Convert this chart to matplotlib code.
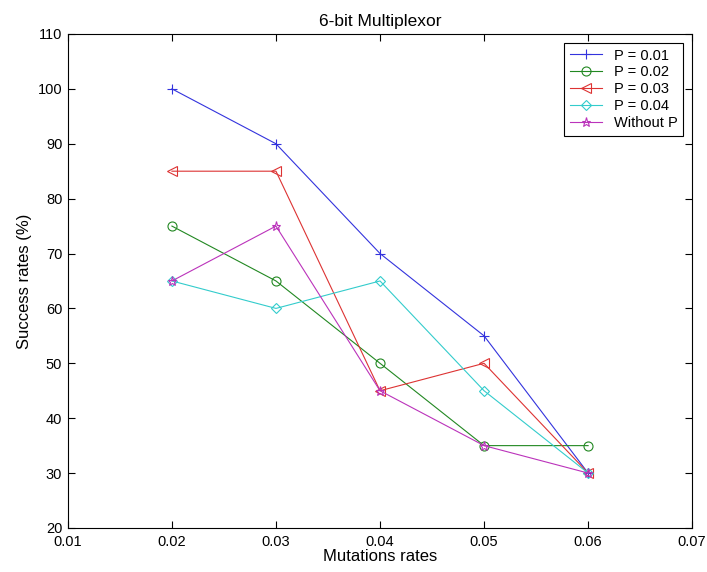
import matplotlib.pyplot as plt

plt.rcParams['font.family'] = ['Liberation Sans', 'DejaVu Sans']

rates = [0.02, 0.03, 0.04, 0.05, 0.06]
p001 = [100, 90, 70, 55, 30]
p002 = [75, 65, 50, 35, 35]
p003 = [85, 85, 45, 50, 30]
p004 = [65, 60, 65, 45, 30]
without_p = [65, 75, 45, 35, 30]

fig = plt.figure(figsize=(7.07, 5.72), dpi=100)
ax = fig.add_axes([0.096, 0.077, 0.883, 0.8636])

kw = dict(lw=0.8, ms=6.5, mfc='none', mew=0.8)
ax.plot(rates, p001, '+-', color='#3333dd', label='P = 0.01', **kw)
ax.plot(rates, p002, 'o-', color='#228822', label='P = 0.02', **kw)
ax.plot(rates, p003, '<-', color='#dd3333', label='P = 0.03', **kw)
ax.plot(rates, p004, 'D-', color='#33cccc', label='P = 0.04', lw=0.8, ms=5, mfc='none', mew=0.8)
ax.plot(rates, without_p, '*-', color='#bb33bb', label='Without P', **kw)

ax.set_xlim(0.01, 0.07)
ax.set_ylim(20, 110)
ax.set_xticks([0.01, 0.02, 0.03, 0.04, 0.05, 0.06, 0.07])
ax.set_yticks(range(20, 111, 10))
ax.tick_params(direction='in', top=True, right=True, labelsize=10.5, length=5)
ax.tick_params(axis='x', pad=5)
ax.tick_params(axis='y', pad=4)

ax.set_xlabel('Mutations rates', fontsize=12, labelpad=0)
ax.set_ylabel('Success rates (%)', fontsize=12, labelpad=4)
ax.set_title('6-bit Multiplexor', fontsize=12.5, pad=6)

leg = ax.legend(loc='upper right', fontsize=10.5, fancybox=False, edgecolor='black',
                framealpha=1, handlelength=2.2, borderaxespad=0.6, labelspacing=0.2)
leg.get_frame().set_linewidth(0.8)

fig.savefig('out.png', dpi=100)
